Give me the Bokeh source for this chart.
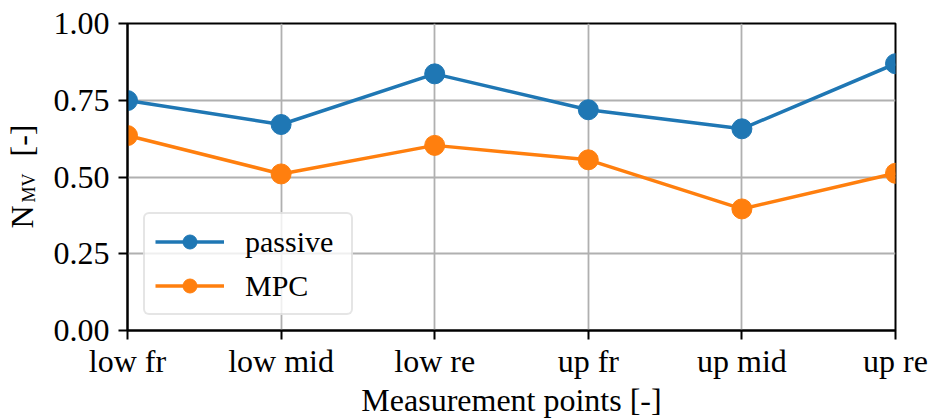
from bokeh.plotting import figure
from bokeh.layouts import row
from bokeh.models import Range1d, FixedTicker, Legend
from bokeh.core.properties import value
from bokeh.embed import file_html
from bokeh.resources import INLINE
import math

categories = ["low fr", "low mid", "low re", "up fr", "up mid", "up re"]
passive = [0.749, 0.671, 0.836, 0.719, 0.657, 0.869]
mpc = [0.635, 0.510, 0.603, 0.556, 0.396, 0.512]
y_ticks = [0.0, 0.25, 0.5, 0.75, 1.0]
y_tick_labels = ["0.00", "0.25", "0.50", "0.75", "1.00"]
y_label_parts = ["N", "MV", "[-]"]

FONT = "Liberation Serif"
FS = "32px"
BLUE = "#1f77b4"
ORANGE = "#ff7f0e"

W, H = 930, 420
SIDE = 45                            # strip holding the rotated y-axis label
FL, FR, FT, FB = 127, 895, 23, 330   # frame edges in page pixels

xs = list(range(len(categories)))

# ---- side strip with the rotated y-axis label (N_MV [-]) ----
lab = figure(width=SIDE, height=H, output_backend="svg", toolbar_location=None,
             x_range=Range1d(0, SIDE), y_range=Range1d(0, 1),
             x_axis_location=None, y_axis_location=None,
             min_border_left=0, min_border_right=0,
             min_border_top=FT, min_border_bottom=H - FB)
lab.outline_line_color = None
lab.xgrid.visible = False
lab.ygrid.visible = False
# (anchor x px, start y px on page, font size)
parts_pos = [(21, 228, "32px"), (28, 202, "18px"), (21, 156, "32px")]
for txt, (ax_, sy, fs) in zip(y_label_parts, parts_pos):
    lab.text(x=[ax_], y=[(FB - sy) / (FB - FT)], text=[txt], angle=math.pi / 2,
             text_font=value(FONT), text_font_size=value(fs),
             text_color="black", text_baseline="alphabetic", text_align="left")

# ---- main plot ----
p = figure(width=W - SIDE, height=H, output_backend="svg", toolbar_location=None,
           x_range=Range1d(0, len(categories) - 1), y_range=Range1d(0, 1),
           min_border_left=FL - SIDE, min_border_right=W - FR, min_border_top=FT,
           min_border_bottom=H - FB)

p.outline_line_color = "black"
p.outline_line_width = 2

for ax in (p.xaxis, p.yaxis):
    ax.axis_line_width = 2
    ax.major_tick_line_width = 2
    ax.major_tick_out = 9
    ax.major_tick_in = 0
    ax.minor_tick_line_color = None
    ax.major_label_text_font = FONT
    ax.major_label_text_font_size = FS
    ax.major_label_text_color = "black"
    ax.axis_label_text_font = FONT
    ax.axis_label_text_font_size = FS
    ax.axis_label_text_font_style = "normal"
    ax.axis_label_text_color = "black"

p.xaxis.ticker = FixedTicker(ticks=xs)
p.xaxis.major_label_overrides = {i: c for i, c in enumerate(categories)}
p.xaxis.major_label_standoff = 3
p.xaxis.axis_label = "Measurement points [-]"
p.xaxis.axis_label_standoff = 0

p.yaxis.ticker = FixedTicker(ticks=y_ticks)
p.yaxis.major_label_overrides = {t: l for t, l in zip(y_ticks, y_tick_labels)}
p.yaxis.major_label_standoff = 9

for g in (p.xgrid, p.ygrid):
    g.grid_line_color = "#b0b0b0"
    g.grid_line_width = 1.8
p.xgrid.ticker = FixedTicker(ticks=xs)
p.ygrid.ticker = FixedTicker(ticks=y_ticks)

r1 = p.line(xs, passive, line_color=BLUE, line_width=3.5)
r2 = p.scatter(xs, passive, size=20, fill_color=BLUE, line_color=BLUE)
r3 = p.line(xs, mpc, line_color=ORANGE, line_width=3.5)
r4 = p.scatter(xs, mpc, size=20, fill_color=ORANGE, line_color=ORANGE)

legend = Legend(items=[("passive", [r1, r2]), ("MPC", [r3, r4])],
                location=(16, 15), glyph_width=69, glyph_height=35,
                label_standoff=21, label_width=96, label_height=35,
                padding=10, spacing=9, margin=0,
                label_text_font=FONT, label_text_font_size="30px",
                label_text_color="black",
                border_line_color="#cccccc", border_line_width=2,
                background_fill_color="white", background_fill_alpha=0.8)
if "border_radius" in Legend.properties():
    legend.border_radius = 6
p.add_layout(legend)

layout = row(lab, p, spacing=0)
open("out.html", "w").write(file_html(layout, INLINE))
